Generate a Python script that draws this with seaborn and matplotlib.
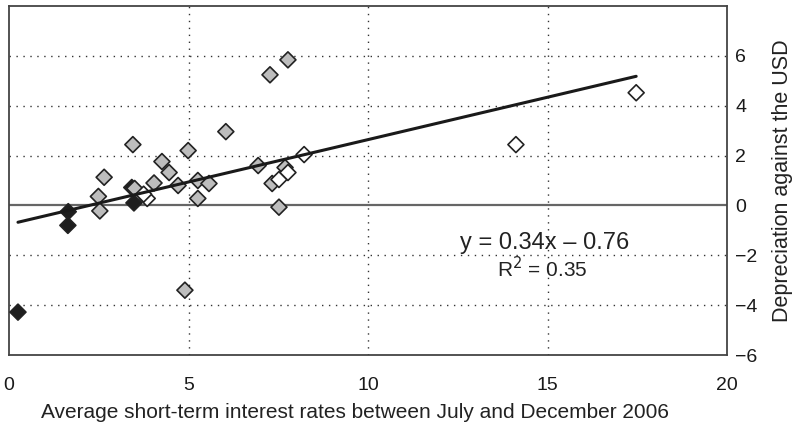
import numpy as np
import pandas as pd
import matplotlib
matplotlib.use("Agg")
import matplotlib.pyplot as plt
import seaborn as sns

# Data
black_x = [0.25, 1.65, 1.64, 3.42, 3.48]
black_y = [-4.28, -0.25, -0.80, 0.72, 0.10]

grey_x = [2.49, 2.53, 2.65, 3.45, 3.50, 4.04, 4.26, 4.46, 4.71, 4.99, 5.26, 5.26,
          5.57, 6.04, 6.94, 7.33, 7.69, 7.52, 7.27, 7.77, 4.90]
grey_y = [0.36, -0.22, 1.13, 2.44, 0.68, 0.90, 1.76, 1.32, 0.80, 2.20, 1.00, 0.28,
          0.88, 2.96, 1.60, 0.88, 1.52, -0.07, 5.24, 5.84, -3.40]

white_x = [3.85, 3.75, 7.52, 7.77, 8.22, 14.12, 17.47]
white_y = [0.28, 0.45, 1.04, 1.32, 2.04, 2.44, 4.52]

slope, intercept = 0.34, -0.76
r2 = 0.35

x_ticks = [0, 5, 10, 15, 20]
y_ticks = [-6, -4, -2, 0, 2, 4, 6]

df = pd.DataFrame({
    "x": black_x + grey_x + white_x,
    "y": black_y + grey_y + white_y,
    "group": ["black"] * len(black_x) + ["grey"] * len(grey_x) + ["white"] * len(white_x),
})

sns.set_style("white")
plt.rcParams["font.family"] = ["Liberation Sans", "DejaVu Sans"]

fig = plt.figure(figsize=(7.97, 4.32), dpi=100)
ax = fig.add_axes([9 / 797, 1 - 355 / 432, (727 - 9) / 797, (355 - 6) / 432])

# grid
for gx in [5, 10, 15]:
    ax.axvline(gx, color="#333333", lw=1.0, ls=(0, (1, 4)), zorder=0)
for gy in [-4, -2, 2, 4, 6]:
    ax.axhline(gy, color="#333333", lw=1.0, ls=(0, (1, 4)), zorder=0)
ax.axhline(0, color="#666666", lw=1.6, zorder=1)

palette = {"black": "#1e1e1e", "white": "#ffffff", "grey": "#bdbdbd"}
order = ["white", "grey", "black"]
sns.scatterplot(data=df, x="x", y="y", hue="group", hue_order=order, palette=palette,
                marker="D", s=66, edgecolor="#222222", linewidth=1.2, legend=False,
                ax=ax, zorder=3)

xs = np.array([min(df["x"]), max(df["x"])])
sns.lineplot(x=xs, y=slope * xs + intercept, color="#1a1a1a", lw=2.2, ax=ax, zorder=4)

ax.set_xlim(0, 20)
ax.set_ylim(-6, 8)
ax.set_xticks(x_ticks)
ax.set_yticks(y_ticks)
ax.set_xticklabels([str(t) for t in x_ticks], fontsize=14, color="#1a1a1a")
ax.set_yticklabels([str(t).replace("-", "\u2212") for t in y_ticks], fontsize=14,
                   color="#1a1a1a")
ax.yaxis.tick_right()
ax.yaxis.set_label_position("right")
ax.tick_params(axis="y", length=0, pad=6)
ax.tick_params(axis="x", length=0, pad=16)
for s in ax.spines.values():
    s.set_color("#444444")
    s.set_linewidth(1.3)

ax.set_xlabel("Average short-term interest rates between July and December 2006",
              fontsize=15, color="#222222")
ax.xaxis.set_label_coords((355 - 9) / 718, -0.138)
ax.set_ylabel("Depreciation against the USD", fontsize=15.5, labelpad=10, color="#222222")

ax.text(14.93, -1.52, f"y = {slope:.2f}x \u2013 {abs(intercept):.2f}", fontsize=17,
        ha="center", va="center", color="#222222")
ax.text(14.87, -2.55, f"R$^2$ = {r2:.2f}", fontsize=15, ha="center", va="center",
        color="#222222")

fig.savefig("out.png", dpi=100)
